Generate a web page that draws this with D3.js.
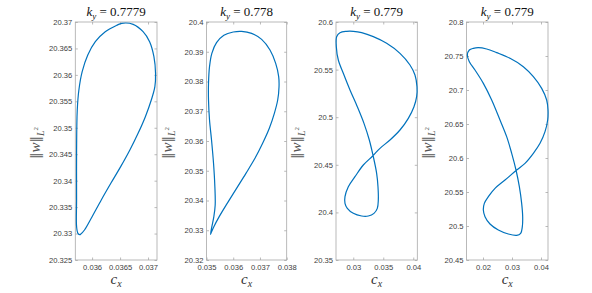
<!DOCTYPE html>
<html><head><meta charset="utf-8">
<script src="https://cdn.jsdelivr.net/npm/d3@7"></script>
<style>body{margin:0;background:#fff} svg{display:block}</style>
</head><body>
<svg id="c" width="592" height="293"></svg>
<script>
// ---- data ----
const kyValues = ["0.7779", "0.778", "0.779", "0.779"];

const cx1 = [0.035782,0.035747,0.035723,0.035723,0.035723,0.035735,0.035764,0.035823,0.035923,0.036058,0.036235,0.036440,0.036529,0.036734,0.036911,0.037028,0.037105,0.037134,0.037122,0.037058,0.036952,0.036822,0.036675,0.036511,0.036335,0.036164,0.036000,0.035864,0.035794];
const w1  = [20.32979,20.33004,20.33130,20.33635,20.34580,20.35336,20.35714,20.36061,20.36376,20.36628,20.36817,20.36937,20.36975,20.36956,20.36817,20.36628,20.36345,20.36030,20.35777,20.35525,20.35210,20.34895,20.34580,20.34265,20.33950,20.33635,20.33319,20.33067,20.32985];

const cx2 = [0.035150,0.035200,0.035275,0.035325,0.035313,0.035263,0.035188,0.035113,0.035075,0.035075,0.035113,0.035200,0.035375,0.035650,0.036000,0.036313,0.036688,0.037063,0.037375,0.037588,0.037700,0.037713,0.037663,0.037538,0.037350,0.037100,0.036813,0.036475,0.036125,0.035775,0.035475,0.035275,0.035175];
const w2  = [20.32863,20.33121,20.33457,20.33849,20.34465,20.35250,20.36034,20.36706,20.37378,20.37938,20.38499,20.38947,20.39305,20.39552,20.39664,20.39686,20.39619,20.39417,20.39059,20.38611,20.38163,20.37826,20.37378,20.36930,20.36426,20.35922,20.35418,20.34913,20.34409,20.33905,20.33457,20.33121,20.32919];

const cx3 = [0.027228,0.027783,0.028894,0.030006,0.031394,0.033339,0.035561,0.037783,0.039450,0.040283,0.040617,0.040561,0.040117,0.039172,0.037783,0.036117,0.034450,0.033228,0.031672,0.030283,0.029172,0.028617,0.028617,0.029006,0.030006,0.031394,0.032506,0.033450,0.034006,0.034172,0.034117,0.033894,0.033339,0.032672,0.031783,0.030672,0.029450,0.028339,0.027506,0.027172];
const w3  = [20.58459,20.58880,20.59020,20.59020,20.58880,20.58459,20.57759,20.56709,20.55483,20.54433,20.53207,20.52157,20.51106,20.49881,20.48655,20.47605,20.46730,20.45924,20.44979,20.43754,20.42703,20.41653,20.40952,20.40427,20.39902,20.39622,20.39622,20.39902,20.40427,20.41303,20.42703,20.44104,20.45854,20.47605,20.49356,20.51106,20.52857,20.54608,20.56008,20.57409];

const cx4 = [0.01460,0.01529,0.01667,0.01839,0.02126,0.02471,0.02931,0.03391,0.03736,0.04023,0.04195,0.04241,0.04230,0.04138,0.03966,0.03736,0.03448,0.03161,0.02759,0.02414,0.02184,0.02046,0.02012,0.02069,0.02241,0.02529,0.02874,0.03161,0.03299,0.03356,0.03368,0.03333,0.03253,0.03138,0.02989,0.02816,0.02586,0.02299,0.02012,0.01724,0.01529];
const w4  = [20.75147,20.75882,20.76127,20.76225,20.76029,20.75490,20.74657,20.73431,20.71961,20.70245,20.68529,20.67059,20.65588,20.63872,20.62157,20.60686,20.59216,20.58235,20.56765,20.55539,20.54314,20.53333,20.52353,20.51372,20.50294,20.49412,20.48824,20.48627,20.48922,20.49902,20.51372,20.53333,20.55784,20.58235,20.60686,20.63137,20.65588,20.68529,20.70980,20.72941,20.74167];

const xTicks1 = [0.036, 0.0365, 0.037];
const xTicks2 = [0.035, 0.036, 0.037, 0.038];
const xTicks3 = [0.03, 0.035, 0.04];
const xTicks4 = [0.02, 0.03, 0.04];
const yTicks1 = [20.325, 20.33, 20.335, 20.34, 20.345, 20.35, 20.355, 20.36, 20.365, 20.37];
const yTicks2 = [20.32, 20.33, 20.34, 20.35, 20.36, 20.37, 20.38, 20.39, 20.4];
const yTicks3 = [20.35, 20.4, 20.45, 20.5, 20.55, 20.6];
const yTicks4 = [20.45, 20.5, 20.55, 20.6, 20.65, 20.7, 20.75, 20.8];

const xDomain1 = [0.03570, 0.03716], yDomain1 = [20.325, 20.37];
const xDomain2 = [0.035, 0.038],     yDomain2 = [20.32, 20.4];
const xDomain3 = [0.02712, 0.04067], yDomain3 = [20.35, 20.6];
const xDomain4 = [0.01431, 0.04241], yDomain4 = [20.45, 20.8];

// ---- layout ----
const panels = [
  {cx: cx1, w: w1, xt: xTicks1, yt: yTicks1, xd: xDomain1, yd: yDomain1, l: 75.3, r: 157},
  {cx: cx2, w: w2, xt: xTicks2, yt: yTicks2, xd: xDomain2, yd: yDomain2, l: 206.5, r: 286.7},
  {cx: cx3, w: w3, xt: xTicks3, yt: yTicks3, xd: xDomain3, yd: yDomain3, l: 336, r: 417.3},
  {cx: cx4, w: w4, xt: xTicks4, yt: yTicks4, xd: xDomain4, yd: yDomain4, l: 466.5, r: 548}
];
const plotTop = 22, plotBottom = 260;
const svg = d3.select("#c");
const fmt = d => String(+d.toFixed(6));
const axisCol = "#a8a8a8", labCol = "#404040";
const SERIF = "serif";
const SANS = "Liberation Sans, Arial, Helvetica, sans-serif";

panels.forEach((p, i) => {
  const x = d3.scaleLinear().domain(p.xd).range([p.l, p.r]);
  const y = d3.scaleLinear().domain(p.yd).range([plotBottom, plotTop]);
  const g = svg.append("g");

  const style = (sel) => {
    sel.select(".domain").remove();
    sel.attr("font-family", null).attr("font-size", null);
    sel.selectAll(".tick line").attr("stroke", axisCol).attr("stroke-width", 0.8);
    sel.selectAll(".tick text").attr("fill", labCol)
      .style("font-family", SANS).style("font-size", "7.6px");
  };
  g.append("g").attr("transform", `translate(0,${plotBottom})`)
    .call(d3.axisBottom(x).tickValues(p.xt).tickFormat(fmt).tickSize(-2.5).tickPadding(5)).call(style);
  g.append("g").attr("transform", `translate(0,${plotTop})`)
    .call(d3.axisTop(x).tickValues(p.xt).tickFormat("").tickSize(-2.5)).call(style);
  g.append("g").attr("transform", `translate(${p.l},0)`)
    .call(d3.axisLeft(y).tickValues(p.yt).tickFormat(fmt).tickSize(-2.5).tickPadding(3)).call(style);
  g.append("g").attr("transform", `translate(${p.r},0)`)
    .call(d3.axisRight(y).tickValues(p.yt).tickFormat("").tickSize(-2.5)).call(style);

  g.append("rect").attr("x", p.l).attr("y", plotTop).attr("width", p.r - p.l).attr("height", plotBottom - plotTop)
    .attr("fill", "none").attr("stroke", axisCol).attr("stroke-width", 0.8);

  const pts = p.cx.map((v, k) => [v, p.w[k]]);
  const line = d3.line().x(d => x(d[0])).y(d => y(d[1])).curve(d3.curveCatmullRomClosed.alpha(0.5));
  g.append("path").attr("d", line(pts)).attr("fill", "none")
    .attr("stroke", "#0072BD").attr("stroke-width", 1.2);

  // title
  const cxm = (p.l + p.r) / 2;
  const t = g.append("text").attr("x", cxm).attr("y", 16).attr("text-anchor", "middle")
    .attr("font-family", SERIF).attr("font-size", 13).attr("fill", "#111");
  t.append("tspan").attr("font-style", "italic").text("k");
  t.append("tspan").attr("font-style", "italic").attr("font-size", 9).attr("dy", 2.5).text("y");
  t.append("tspan").attr("dy", -2.5).text(" = " + kyValues[i]);

  // x label
  const xl = g.append("text").attr("x", cxm).attr("y", 284).attr("text-anchor", "middle")
    .attr("font-family", SERIF).attr("font-size", 15).attr("fill", "#333");
  xl.append("tspan").attr("font-style", "italic").text("c");
  xl.append("tspan").attr("font-style", "italic").attr("font-size", 10).attr("dy", 3).text("x");

  // y label
  const yl = g.append("text")
    .attr("transform", `translate(${p.l - 35},${(plotTop + plotBottom) / 2 + 2}) rotate(-90)`)
    .attr("text-anchor", "middle").attr("font-family", SERIF).attr("font-size", 15).attr("fill", "#555");
  yl.append("tspan").style("font-family", "DejaVu Serif").style("font-size", "13px").text("\u2016");
  yl.append("tspan").attr("font-style", "italic").text("w");
  yl.append("tspan").style("font-family", "DejaVu Serif").style("font-size", "13px").text("\u2016");
  yl.append("tspan").attr("font-style", "italic").attr("font-size", 10).attr("dy", 3.5).text("L");
  yl.append("tspan").attr("font-size", 7).attr("dy", -6).text("2");
});
</script>
</body></html>
